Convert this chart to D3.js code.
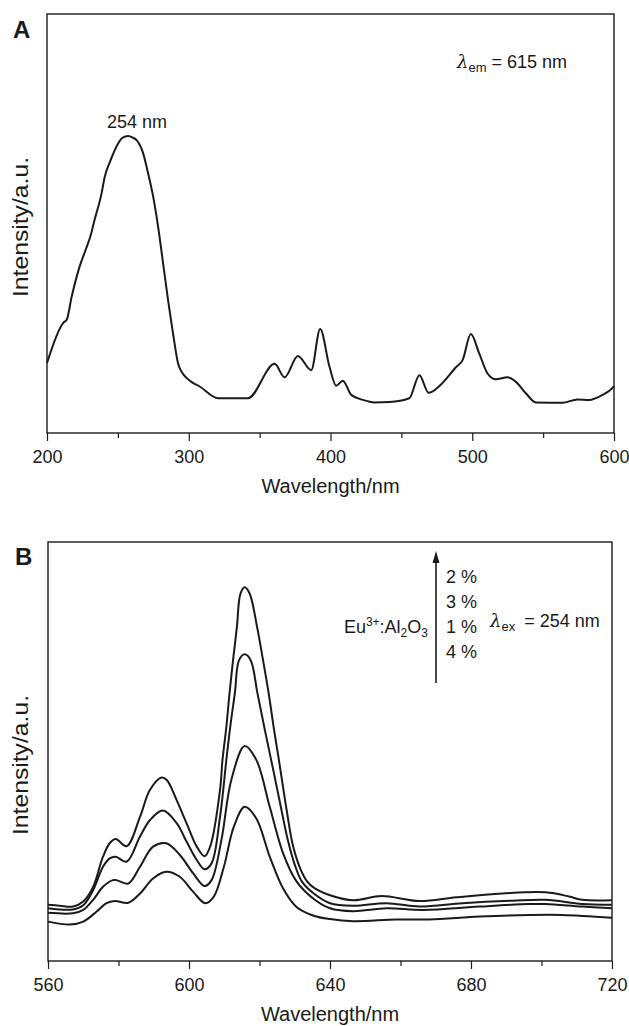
<!DOCTYPE html>
<html><head><meta charset="utf-8">
<script src="https://cdn.jsdelivr.net/npm/d3@7"></script>
<style>
body{margin:0;background:#fff}
text{font-family:"Liberation Sans",Arial,Helvetica,sans-serif;fill:#1a1a1a}
</style>
</head><body>
<svg id="chart" width="629" height="1026"></svg>
<script>
// ---------- Panel A: excitation spectrum (λem = 615 nm) ----------
const aWavelength = [200,211.5,213.9,217.4,223,226.8,231.5,232.6,238.5,240.8,244.4,250.2,253,257.3,260.5,263.2,267.8,271.3,274.9,278.4,281.9,285.4,288.9,292.5,293.7,301.9,307.7,320.6,341.8,360.6,367.6,377,386.4,392.7,399.3,404,408.7,414.6,422.8,431,441.5,455.6,462.7,469.2,476.8,488.5,493.2,499,504.9,510.8,516.7,524.9,530.8,537.8,544.9,563.6,574.2,582.4,591.8,598.8,600];
const aIntensity = [16.7,26.3,27.0,32.5,39.7,43.3,48.0,49.6,57.2,61.2,64.7,69.1,70.4,70.9,70.5,69.9,66.8,62.0,56.4,49.2,40.5,31.7,23.8,16.6,15.4,12.2,11.1,8.3,8.3,16.5,13.3,18.4,15.0,24.8,15.8,11.3,12.5,9.1,7.9,7.3,7.4,8.3,13.8,9.6,11.2,15.7,17.4,23.6,19.0,14.2,12.8,13.3,12.2,9.5,7.3,7.2,8.0,7.9,9.1,10.7,11.2];
const aMajorTicks = [200,300,400,500,600];
const aMinorTicks = [250,350,450,550];

// ---------- Panel B: emission spectra (λex = 254 nm) ----------
const b2Wavelength = [560,563.3,567.1,570,572.8,575.6,577.5,579.2,582.3,586.1,588.9,592.2,593.7,596.5,599.3,602.2,604.4,606,608.8,609.5,610.6,611.5,612.5,613.6,614.6,615.8,617.2,619.3,621.0,622.6,624.0,625.5,627.8,629.5,631.6,633.5,635.4,640,646.6,654.6,665.4,675.8,688.9,701.2,707.8,711.5,720];
const b2Intensity = [13.4,13.2,13.0,14.2,17.7,24.9,28.1,29.1,27.4,34.4,40.8,43.8,43.2,38.4,32.9,27.3,25.0,27.3,40.8,48.0,55.9,63.9,71.8,79.8,87.7,89.2,87.7,79.8,71.8,63.9,55.9,48.0,35.5,27.5,22.0,19.0,17.5,15.7,14.5,15.5,14.3,15.2,16.1,16.4,15.4,14.6,14.5];
const b3Wavelength = [560,567.1,570,572.8,575.6,577.5,579.2,582.3,586.1,588.9,592.6,596.5,599.3,602.2,604.4,606.4,608.8,610.6,611.7,613.0,614.2,615.8,617.5,619.4,621.6,623.8,626,628,630,632,635.4,640,646.6,656,665.4,677.6,691.8,701.2,711.5,720];
const b3Intensity = [12.6,12.3,13.3,16.9,22.5,24.5,24.9,23.7,29.7,33.6,35.9,32.9,28.5,24.1,21.9,23.3,34.4,48.0,55.9,63.9,71.8,73.2,71.8,64.0,54.8,46.0,37.0,29.0,23.0,19.0,16.1,13.8,13.2,13.8,13.0,13.8,14.4,14.6,13.6,13.4];
const b1Wavelength = [560,567.1,570,572.8,575.6,578.4,579.4,582.8,586.1,589.8,593.6,597.4,601.2,604.4,606.4,609.2,612,615.8,619.1,622.9,626.7,630.5,635.4,640,646.6,656,666.4,682.4,696.5,701.2,711.5,720];
const b1Intensity = [11.5,11.4,12.2,14.6,17.7,19.3,19.3,18.5,22.5,27.3,28.1,25.3,20.9,17.9,19.3,28.9,43.2,51.3,48.0,36.8,25.7,19.0,14.8,12.6,11.9,12.6,12.2,13.0,13.6,13.6,13.0,12.6];
const b4Wavelength = [560,566.2,570,573.8,576.6,579,582.8,586.1,589.8,593.6,597.4,601.2,604.6,607,609.9,612.7,615.8,619.1,622.9,626.7,630.5,635.4,640,646.6,658.8,668.2,682.4,696.5,705.9,720];
const b4Intensity = [9.4,8.7,9.4,11.8,13.8,14.3,13.9,16.1,19.7,21.3,20.1,16.5,13.8,15.3,22.5,32.0,36.8,34.0,24.9,17.3,12.9,10.8,10.0,9.5,9.9,9.9,10.6,11.0,11.0,10.3];
const bMajorTicks = [560,600,640,680,720];
const bMinorTicks = [580,620,660,700];
const bLegendLabels = ["2 %","3 %","1 %","4 %"];

const svg = d3.select("#chart");
const ink = "#1a1a1a";

function zip(xs, ys){ return xs.map((x,i)=>[x, ys[i]]); }

function drawPanel(cfg){
  const x = d3.scaleLinear().domain(cfg.xDomain).range([cfg.left, cfg.right]);
  const y = d3.scaleLinear().domain([0,100]).range([cfg.bottom, cfg.top]);
  const g = svg.append("g");
  g.append("rect").attr("x",cfg.left).attr("y",cfg.top)
    .attr("width",cfg.right-cfg.left).attr("height",cfg.bottom-cfg.top)
    .attr("fill","none").attr("stroke",ink).attr("stroke-width",1.4);
  const minor = g.append("g").attr("transform",`translate(0,${cfg.bottom})`)
    .call(d3.axisBottom(x).tickValues(cfg.minor).tickSize(5).tickFormat(""));
  minor.select(".domain").remove();
  minor.selectAll("line").attr("stroke",ink).attr("stroke-width",1.2);
  const major = g.append("g").attr("transform",`translate(0,${cfg.bottom})`)
    .call(d3.axisBottom(x).tickValues(cfg.major).tickSize(8).tickPadding(9).tickFormat(d3.format("d")));
  major.select(".domain").remove();
  major.selectAll("line").attr("stroke",ink).attr("stroke-width",1.2);
  major.selectAll("text").attr("font-size",18).attr("fill",ink)
    .style("font-family",'"Liberation Sans",Arial,sans-serif');
  g.append("text").attr("x",(cfg.left+cfg.right)/2).attr("y",cfg.bottom+60)
    .attr("text-anchor","middle").attr("font-size",20).text("Wavelength/nm");
  g.append("text").attr("transform",`translate(28,${cfg.yTitleCenter}) rotate(-90)`)
    .attr("text-anchor","middle").attr("font-size",22)
    .attr("textLength",140).attr("lengthAdjust","spacingAndGlyphs").text("Intensity/a.u.");
  g.append("text").attr("x",cfg.letterX).attr("y",cfg.letterY)
    .attr("font-size",24).attr("font-weight","bold").text(cfg.letter);
  const line = d3.line().x(d=>x(d[0])).y(d=>y(d[1])).curve(cfg.curve);
  cfg.series.forEach(s=>{
    g.append("path").datum(s).attr("d",line).attr("fill","none")
      .attr("stroke",ink).attr("stroke-width",2).attr("stroke-linejoin","round");
  });
  return {g,x,y};
}

// Panel A
const pA = drawPanel({
  xDomain:[200,600], left:47, right:614, top:14, bottom:433,
  major:aMajorTicks, minor:aMinorTicks, letter:"A", letterX:13, letterY:38,
  yTitleCenter:227, curve:d3.curveMonotoneX,
  series:[zip(aWavelength,aIntensity)]
});
pA.g.append("text").attr("x",pA.x(263.5)).attr("y",128).attr("text-anchor","middle")
  .attr("font-size",18).text("254 nm");
const lamA = pA.g.append("text").attr("x",457).attr("y",68).attr("font-size",18);
lamA.append("tspan").attr("font-family","'DejaVu Serif',serif").attr("font-style","italic").text("λ");
lamA.append("tspan").attr("font-size",13).attr("dy",4).text("em");
lamA.append("tspan").attr("dy",-4).text(" = 615 nm");

// Panel B
const pB = drawPanel({
  xDomain:[560,720], left:48, right:612, top:542, bottom:961,
  major:bMajorTicks, minor:bMinorTicks, letter:"B", letterX:15, letterY:565,
  yTitleCenter:765, curve:d3.curveCatmullRom.alpha(0.5),
  series:[zip(b2Wavelength,b2Intensity),zip(b3Wavelength,b3Intensity),zip(b1Wavelength,b1Intensity),zip(b4Wavelength,b4Intensity)]
});
const ax = 436;
pB.g.append("line").attr("x1",ax).attr("x2",ax).attr("y1",683).attr("y2",560)
  .attr("stroke",ink).attr("stroke-width",1.6);
pB.g.append("path").attr("d",`M${ax},551 L${ax-3.5},563 L${ax+3.5},563 Z`).attr("fill",ink);
pB.g.selectAll("text.lg").data(bLegendLabels).join("text").attr("class","lg")
  .attr("x",446).attr("y",(d,i)=>583+i*25).attr("font-size",18).text(d=>d);
const eu = pB.g.append("text").attr("x",428).attr("y",633).attr("text-anchor","end").attr("font-size",18);
eu.append("tspan").text("Eu");
eu.append("tspan").attr("font-size",12).attr("dy",-7).text("3+");
eu.append("tspan").attr("dy",7).text(":Al");
eu.append("tspan").attr("font-size",12).attr("dy",4).text("2");
eu.append("tspan").attr("dy",-4).text("O");
eu.append("tspan").attr("font-size",12).attr("dy",4).text("3");
const lamB = pB.g.append("text").attr("x",490).attr("y",627).attr("font-size",18);
lamB.append("tspan").attr("font-family","'DejaVu Serif',serif").attr("font-style","italic").text("λ");
lamB.append("tspan").attr("font-size",13).attr("dy",4).text("ex");
lamB.append("tspan").attr("dy",-4).attr("xml:space","preserve").text("\u2002= 254 nm");
</script>
</body></html>
